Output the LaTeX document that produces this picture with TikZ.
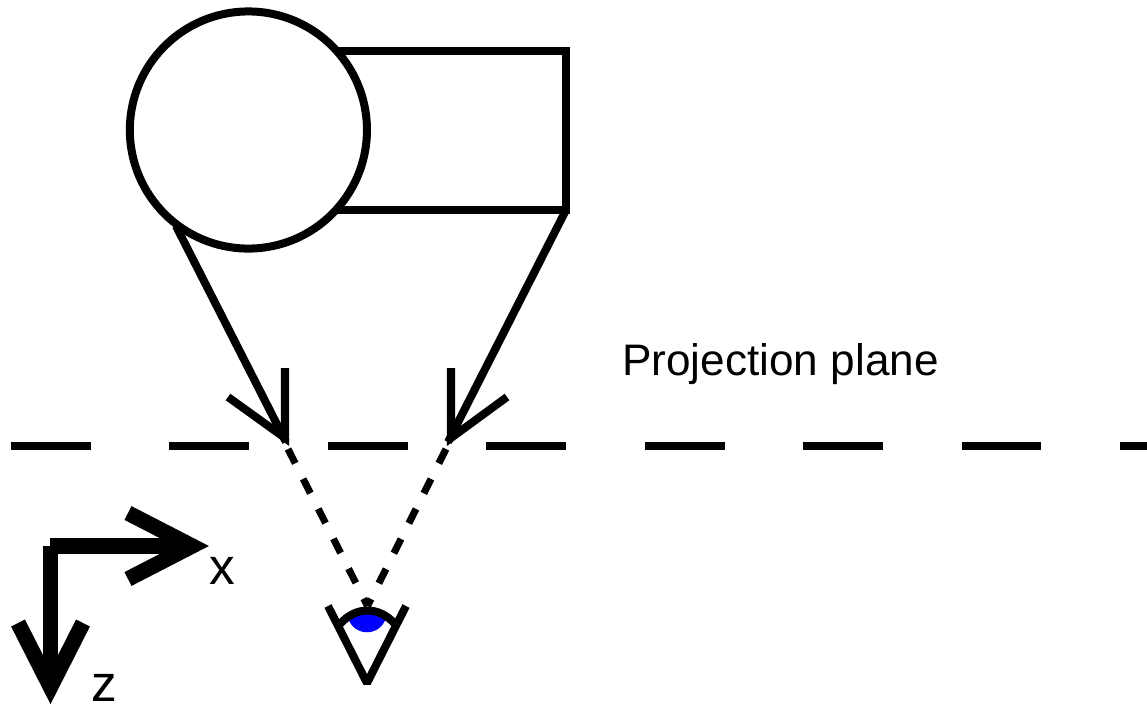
\documentclass[tikz,border=0pt]{standalone}
\usepackage{fontspec}
\setmainfont{Liberation Sans}

\tikzset{
  thickline/.style={line width=0.08cm, draw=black},
  dashline/.style={line width=0.07cm, draw=black, dash pattern=on 0.16cm off 0.175cm},
  axisline/.style={line width=0.155cm, draw=black},
  planelabel/.style={inner sep=0pt, font=\fontsize{12.55pt}{15pt}\selectfont},
  axislabel/.style={inner sep=0pt, font=\fontsize{14.6pt}{16pt}\selectfont}
}

\begin{document}
\begin{tikzpicture}[x=0.01cm, y=-0.01cm]
    \useasboundingbox (0,0) rectangle (1147,705);

    % Box behind the ball
    \draw[thickline, fill=white] (335,51) -- (566,51) -- (566,209.5) -- (335,209.5);
    \draw[thickline, fill=white] (248.4,130) circle (1.185cm);

    % Projection plane
    \coordinate (planeL) at (11,446);
    \coordinate (planeR) at (1147,446);
    \draw[thickline, dash pattern=on 0.795cm off 0.789cm] (planeL) -- (planeR);
    \node[planelabel] (planetext) at (780.5,364) {Projection plane};

    % Rays down to the plane
    \coordinate (ballpt) at (176,226);
    \coordinate (boxpt) at (566,210);
    \coordinate (hitL) at (286,442);
    \coordinate (hitR) at (448,442);
    \draw[thickline] (ballpt) -- (hitL);
    \draw[thickline] (boxpt) -- (hitR);
    \draw[thickline, miter limit=10] (285,368) -- (285,438) -- (228,397);
    \draw[thickline, miter limit=10] (451,368) -- (451,438) -- (507,397);

    % Rays behind the plane
    \coordinate (eyept) at (367.5,606);
    \draw[dashline] (288,449) -- (eyept);
    \draw[dashline] (446,449) -- (eyept);

    % Eye
    \fill[blue] (348,618) .. controls (354,637) and (380,637) .. (386,618) .. controls (375,611) and (360,611) .. (348,618) -- cycle;
    \draw[thickline, miter limit=2] (328,606) -- (367,683) -- (406,606);
    \draw[thickline] (340,624) .. controls (356,606) and (379,606) .. (395,624);

    % Axes
    \coordinate (origx) at (50,546);
    \coordinate (origz) at (50.5,546);
    \draw[axisline] (origx) -- (188,546);
    \draw[axisline] (origz) -- (50.5,685);
    \draw[axisline, miter limit=10] (128,513) -- (192,546) -- (128,579);
    \draw[axisline, miter limit=10] (18,623) -- (50.5,687) -- (83,623);
    \node[axislabel] (xlabel) at (222.5,571) {x};
    \node[axislabel] (zlabel) at (104,688) {z};
\end{tikzpicture}
\end{document}
